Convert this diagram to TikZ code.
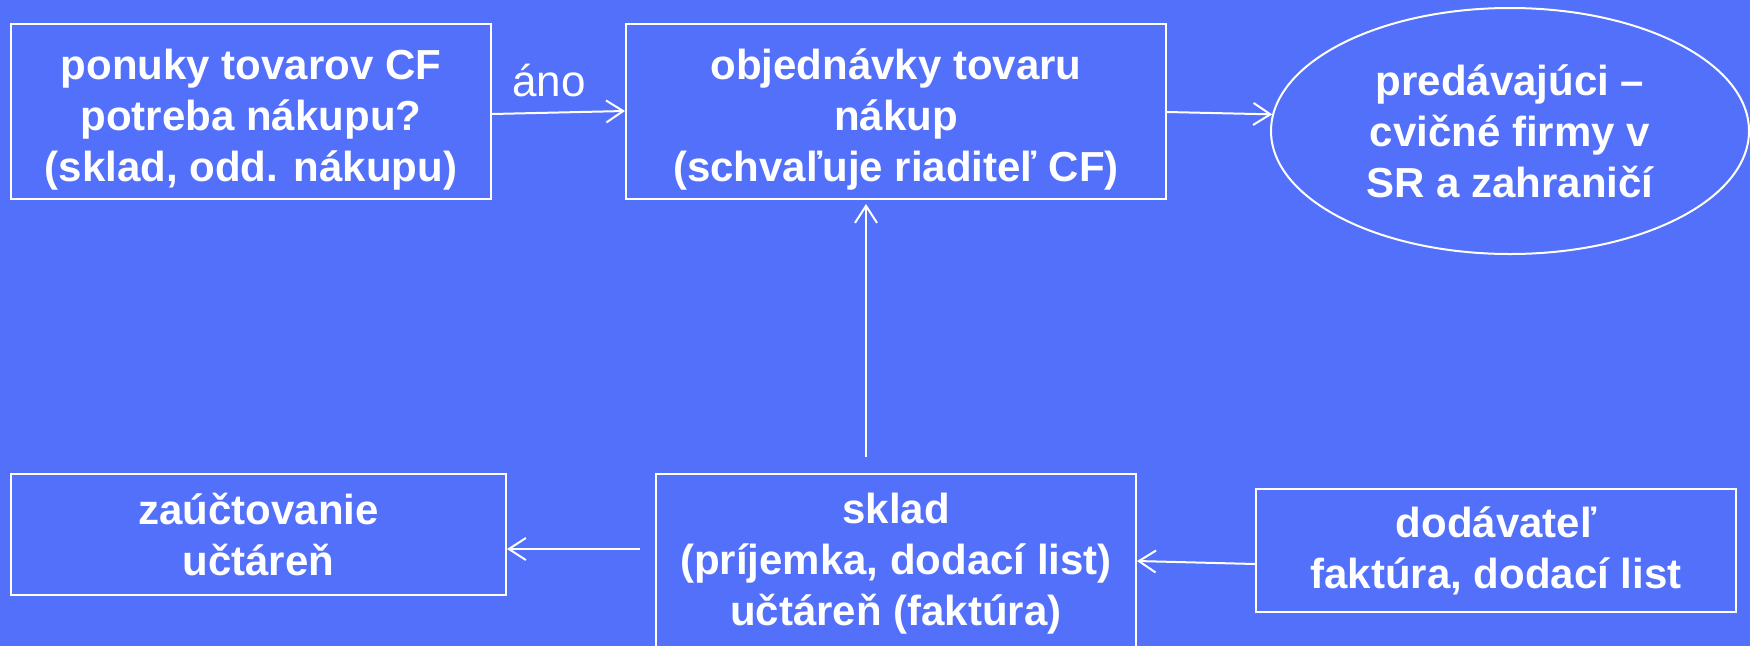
\documentclass[tikz,border=0pt]{standalone}
\usepackage{fontspec}
\setmainfont{Liberation Sans}
\usetikzlibrary{arrows.meta,shapes.geometric}
\definecolor{bgblue}{RGB}{83,112,250}
\begin{document}
\begin{tikzpicture}[x=1pt,y=-1pt,
  box/.style={draw=white,line width=2pt,rectangle,inner sep=0pt,align=center,text=white,
    font=\bfseries\fontsize{42}{51}\selectfont},
  txt/.style={inner sep=0pt,align=center,text=white,
    font=\bfseries\fontsize{42}{51}\selectfont},
  oval/.style={draw=white,line width=2pt,ellipse,inner sep=0pt,align=center,text=white,
    font=\bfseries\fontsize{42}{51}\selectfont},
  conn/.style={draw=white,line width=2pt,-{Straight Barb[length=17pt,width=22pt]}},
  lbl/.style={text=white,inner sep=0pt,font=\fontsize{44}{50}\selectfont}
]
\fill[bgblue] (0,0) rectangle (1750,646);
\useasboundingbox (0,0) rectangle (1750,646);
\clip (0,0) rectangle (1750,646);

\node[box,minimum width=480pt,minimum height=175pt] (b1) at (251,111.5) {};
\node[txt] (b1t) at ([yshift=-8pt]b1.center)
  {ponuky tovarov CF\\potreba nákupu?\\(sklad, odd. nákupu)};
\node[box,minimum width=540pt,minimum height=175pt] (b2) at (896,111.5) {};
\node[txt] (b2t) at ([yshift=-8pt]b2.center)
  {objednávky tovaru\\nákup\\(schvaľuje riaditeľ CF)};
\node[oval,minimum width=478pt,minimum height=246pt] (e) at (1510,131)
  {predávajúci –\\cvičné firmy v\\SR a zahraničí};
\node[box,minimum width=495pt,minimum height=121pt] (b4) at (258.5,534.5)
  {zaúčtovanie\\učtáreň};
\node[box,minimum width=480pt,minimum height=180pt] (sk) at (896,564)
  {sklad\\(príjemka, dodací list)\\učtáreň (faktúra)};
\node[box,minimum width=480pt,minimum height=123pt] (d) at (1496,550.5)
  {dodávateľ\\faktúra, dodací list};
\node[lbl] (ano) at (549,81) {áno};

\draw[conn] ([yshift=-2.5pt]b1.east) -- ([yshift=0.5pt]b2.west);
\draw[conn] ([yshift=-0.5pt]b2.east) -- (e.176);
\draw[conn] ([xshift=-30pt,yshift=16pt]sk.north) -- ([xshift=-30pt,yshift=-4pt]b2.south);
\draw[conn] ([xshift=-15pt,yshift=15pt]sk.west) -- ([yshift=-14.5pt]b4.east);
\draw[conn] ([yshift=-13.5pt]d.west) -- ([yshift=3pt]sk.east);
\end{tikzpicture}
\end{document}
